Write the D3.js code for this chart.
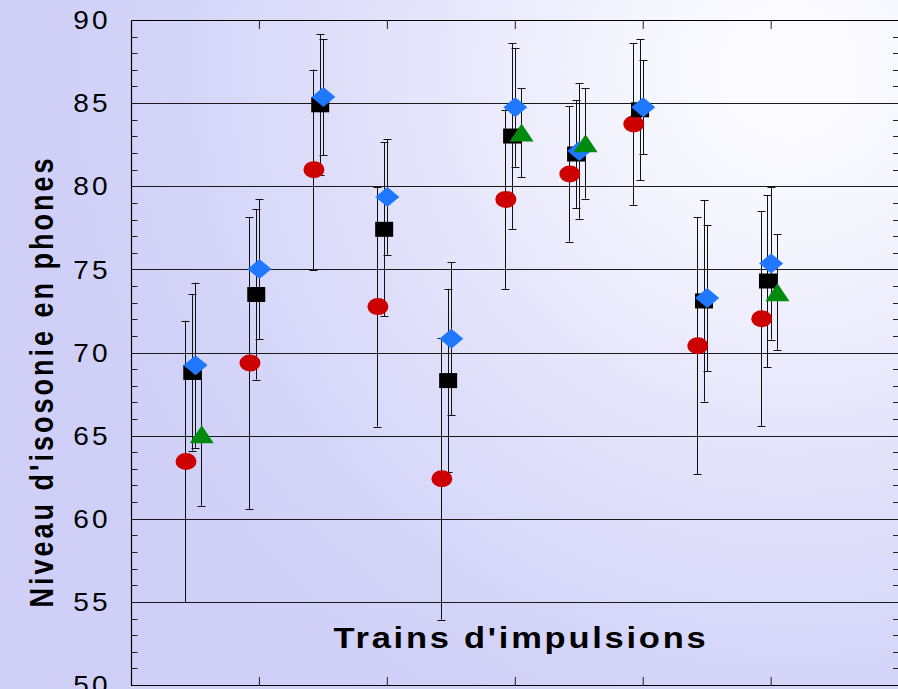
<!DOCTYPE html>
<html>
<head>
<meta charset="utf-8">
<script src="https://cdn.jsdelivr.net/npm/d3@7"></script>
<style>
  html, body { margin: 0; padding: 0; overflow: hidden; background: #d4d4fa; }
  svg { display: block; }
</style>
</head>
<body>
<svg id="chart" width="898" height="689"></svg>
<script>
// Pulse trains 1..10, loudness level (phones) with standard deviations
const trains = [1, 2, 3, 4, 5, 6, 7, 8, 9, 10];

const circleValues   = [63.45, 69.37, 81.0, 72.76, 62.41, 79.21, 80.74, 83.74, 70.41, 72.03];
const circleErrors   = [8.46, 8.78, 6.02, 7.22, 8.48, 5.40, 4.07, 4.86, 7.72, 6.48];

const squareValues   = [68.80, 73.49, 84.90, 77.41, 68.31, 83.02, 81.94, 84.60, 73.10, 74.30];
const squareErrors   = [4.70, 5.12, 4.24, 5.24, 5.52, 5.60, 3.24, 4.23, 6.05, 5.18];

const diamondValues  = [69.24, 75.02, 85.37, 79.36, 70.83, 84.75, 82.12, 84.75, 73.28, 75.36];
const diamondErrors  = [4.97, 4.20, 3.49, 3.48, 4.59, 3.57, 4.07, 2.82, 4.39, 4.58];

const triangleValues = [65.08, null, null, null, null, 83.23, 82.58, null, null, 73.63];
const triangleErrors = [4.30, null, null, null, null, 2.68, 3.32, null, null, 3.47];

const yTickLabels = [50, 55, 60, 65, 70, 75, 80, 85, 90];
const xTickValues = [2, 4, 6, 8, 10];
const xTitle = "Trains d'impulsions";
const yTitle = "Niveau d'isosonie en phones";

// Series, drawn in this order (later ones on top)
const series = [
  { values: circleValues,   errors: circleErrors,   shape: "circle",   color: "#cc0000", shift: -0.148 },
  { values: squareValues,   errors: squareErrors,   shape: "square",   color: "#000000", shift: -0.050 },
  { values: diamondValues,  errors: diamondErrors,  shape: "diamond",  color: "#1f78ff", shift: 0.0 },
  { values: triangleValues, errors: triangleErrors, shape: "triangle", color: "#008a0e", shift: 0.098 }
];

const W = 898, H = 689;
const plot = { left: 131, right: 898.6, top: 20, bottom: 685 };

const x = d3.scaleLinear().domain([0, 12]).range([plot.left, plot.right]);
const y = d3.scaleLinear().domain([50, 90]).range([plot.bottom, plot.top]);

const svg = d3.select("#chart");
const defs = svg.append("defs");

// Soft lavender backdrop brightening toward the upper right
const grad = defs.append("radialGradient")
  .attr("id", "bg")
  .attr("gradientUnits", "userSpaceOnUse")
  .attr("cx", 790).attr("cy", 70).attr("r", 760);
[[0, "#fcfcff"], [0.22, "#f5f5fe"], [0.5, "#e4e4fb"], [0.8, "#d5d5f9"], [1, "#cfcff8"]]
  .forEach(([o, c]) => grad.append("stop").attr("offset", o).attr("stop-color", c));

svg.append("rect").attr("width", W).attr("height", H).attr("fill", "url(#bg)");

// Horizontal grid lines at every labelled level
const g = svg.append("g");
g.selectAll("line.grid")
  .data(yTickLabels.filter(v => v > 50 && v < 90))
  .join("line")
  .attr("class", "grid")
  .attr("x1", plot.left).attr("x2", W)
  .attr("y1", d => Math.round(y(d)) + 0.5).attr("y2", d => Math.round(y(d)) + 0.5)
  .attr("stroke", "#1a1a1a").attr("stroke-width", 1);

// Minor ticks every phone on the left (inward) and right (inward) edges
const minor = d3.range(51, 90).filter(v => v % 5 !== 0);
const leftAxis = d3.axisRight(y).tickValues(minor).tickSize(6).tickFormat("");
const la = svg.append("g").attr("transform", `translate(${plot.left + 0.5},0)`).call(leftAxis);
la.select(".domain").remove();
la.selectAll(".tick line").attr("stroke", "#222");
la.selectAll(".tick").attr("transform", d => `translate(0,${Math.round(y(d)) + 0.5})`);

const rightAxis = d3.axisLeft(y).tickValues(minor).tickSize(5).tickFormat("");
const ra = svg.append("g").attr("transform", `translate(${W},0)`).call(rightAxis);
ra.select(".domain").remove();
ra.selectAll(".tick line").attr("stroke", "#222");
ra.selectAll(".tick").attr("transform", d => `translate(0,${Math.round(y(d)) + 0.5})`);

// Top and bottom category ticks (inward)
const topAxis = d3.axisBottom(x).tickValues(xTickValues).tickSize(9).tickFormat("");
const ta = svg.append("g").attr("transform", `translate(0,${plot.top})`).call(topAxis);
ta.select(".domain").remove();
ta.selectAll(".tick line").attr("stroke", "#222");

const bottomAxis = d3.axisTop(x).tickValues(xTickValues).tickSize(8).tickFormat("");
const ba = svg.append("g").attr("transform", `translate(0,${plot.bottom})`).call(bottomAxis);
ba.select(".domain").remove();
ba.selectAll(".tick line").attr("stroke", "#222");

// Frame
svg.append("path")
  .attr("d", `M${plot.left + 0.5},${plot.top + 0.5} H${W + 2} M${plot.left + 0.5},${plot.top + 0.5} V${plot.bottom + 0.5} H${W + 2}`)
  .attr("fill", "none").attr("stroke", "#000").attr("stroke-width", 1.2);

// Y tick labels
svg.append("g").selectAll("text")
  .data(yTickLabels)
  .join("text")
  .attr("transform", d => `translate(111,${y(d)}) scale(1.1,1)`)
  .attr("text-anchor", "end")
  .attr("dy", "0.36em")
  .attr("font-family", "'Liberation Sans', Arial, sans-serif")
  .attr("font-size", 25.5)
  .attr("letter-spacing", 3)
  .attr("fill", "#000")
  .text(d => d);

// Axis titles
svg.append("text")
  .attr("transform", "translate(53,381.5) scale(1.2,1) rotate(-90)")
  .attr("text-anchor", "middle")
  .attr("font-family", "'Liberation Sans', Arial, sans-serif")
  .attr("font-weight", "bold")
  .attr("font-size", 27)
  .attr("letter-spacing", 3)
  .attr("fill", "#000")
  .text(yTitle);

svg.append("text")
  .attr("transform", "translate(521,648) scale(1.15,1)")
  .attr("text-anchor", "middle")
  .attr("font-family", "'Liberation Sans', Arial, sans-serif")
  .attr("font-weight", "bold")
  .attr("font-size", 30)
  .attr("letter-spacing", 2.4)
  .attr("fill", "#000")
  .text(xTitle);

// Build point records per series
const points = series.map(s => trains.map((t, i) => ({
  t, v: s.values[i], e: s.errors[i], shape: s.shape, color: s.color, shift: s.shift
})).filter(d => d.v != null));

// Error bars first, markers on top
const bars = svg.append("g").attr("stroke", "#111").attr("stroke-width", 1).attr("fill", "none");
points.flat().forEach(d => {
  const cx = Math.round(x(d.t + d.shift)) + 0.5;
  const y1 = y(d.v + d.e), y0 = y(d.v - d.e);
  bars.append("line").attr("x1", cx).attr("x2", cx).attr("y1", y1).attr("y2", y0);
  bars.append("line").attr("x1", cx - 4).attr("x2", cx + 4)
    .attr("y1", Math.round(y1) + 0.5).attr("y2", Math.round(y1) + 0.5);
  bars.append("line").attr("x1", cx - 4).attr("x2", cx + 4)
    .attr("y1", Math.round(y0) + 0.5).attr("y2", Math.round(y0) + 0.5);
});

const markerPath = {
  square:   "M-9,-7.5H9V7.5H-9Z",
  diamond:  "M0,-10L12,0L0,10L-12,0Z",
  triangle: "M0,-9L12,9H-12Z"
};

const marks = svg.append("g");
points.forEach(pts => {
  pts.forEach(d => {
    const cx = x(d.t + d.shift) + 0.5, cy = y(d.v);
    if (d.shape === "circle") {
      marks.append("ellipse")
        .attr("cx", cx).attr("cy", cy).attr("rx", 10.5).attr("ry", 8.5)
        .attr("fill", d.color);
    } else {
      marks.append("path")
        .attr("transform", `translate(${cx},${cy})`)
        .attr("d", markerPath[d.shape])
        .attr("fill", d.color);
    }
  });
});
</script>
</body>
</html>
